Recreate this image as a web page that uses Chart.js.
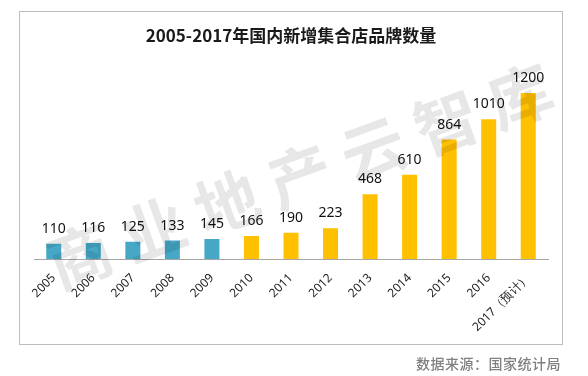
<!DOCTYPE html>
<html>
<head>
<meta charset="utf-8">
<script src="https://cdn.jsdelivr.net/npm/chart.js@4.4.1/dist/chart.umd.min.js"></script>
<style>
  html, body { margin: 0; padding: 0; background: #fff; }
  body { width: 588px; height: 376px; position: relative; overflow: hidden; }
  #frame { position: absolute; left: 19px; top: 11px; width: 544px; height: 334px; border: 1px solid #bdbdbd; box-sizing: border-box; }
  #wrap { position: absolute; left: 0; top: 0; width: 588px; height: 376px; }
  #source { position: absolute; right: 27px; top: 353px; font-family: "Noto Sans CJK SC", sans-serif; font-size: 14px; color: #808080; font-weight: 500; letter-spacing: 0.5px; }
</style>
</head>
<body>
<div id="frame"></div>
<div id="wrap"><canvas id="c" width="588" height="376"></canvas></div>
<div id="source">数据来源：国家统计局</div>
<script>
const categories = ['2005','2006','2007','2008','2009','2010','2011','2012','2013','2014','2015','2016','2017（预计）'];
const values = [110, 116, 125, 133, 145, 166, 190, 223, 468, 610, 864, 1010, 1200];
const barColors = ['#46A8C6','#46A8C6','#46A8C6','#46A8C6','#46A8C6','#FFC000','#FFC000','#FFC000','#FFC000','#FFC000','#FFC000','#FFC000','#FFC000'];
const titleText = '2005-2017年国内新增集合店品牌数量';
const watermarkText = '商业地产云智库';

const valueLabels = {
  id: 'valueLabels',
  afterDatasetsDraw(chart) {
    const ctx = chart.ctx;
    const meta = chart.getDatasetMeta(0);
    ctx.save();
    ctx.font = '14px "Noto Sans", sans-serif';
    ctx.fillStyle = '#111';
    ctx.textAlign = 'center';
    ctx.textBaseline = 'alphabetic';
    meta.data.forEach((bar, i) => {
      ctx.fillText(String(values[i]), bar.x, bar.y - 11);
    });
    ctx.restore();
  }
};

const watermark = {
  id: 'watermark',
  afterDraw(chart) {
    const ctx = chart.ctx;
    ctx.save();
    ctx.translate(300, 176);
    ctx.rotate(-20 * Math.PI / 180);
    ctx.font = 'bold 64px "Noto Sans CJK SC", sans-serif';
    ctx.fillStyle = 'rgba(0,0,0,0.095)';
    ctx.textAlign = 'center';
    ctx.textBaseline = 'middle';
    const chars = Array.from(watermarkText);
    const step = 78;
    chars.forEach((ch, i) => {
      ctx.fillText(ch, (i - (chars.length - 1) / 2) * step, 0);
    });
    ctx.restore();
  }
};

new Chart(document.getElementById('c'), {
  type: 'bar',
  data: {
    labels: categories,
    datasets: [{
      data: values,
      backgroundColor: barColors,
      borderWidth: 0,
      barPercentage: 0.38,
      categoryPercentage: 1.0
    }]
  },
  options: {
    responsive: false,
    animation: false,
    devicePixelRatio: 1,
    layout: { padding: { left: 34, right: 40, top: 0, bottom: 27 } },
    plugins: {
      legend: { display: false },
      tooltip: { enabled: false },
      title: {
        display: true,
        text: titleText,
        color: '#1a1a1a',
        font: { family: '"Noto Sans CJK SC", sans-serif', size: 17, weight: 'bold' },
        padding: { top: 25, bottom: 20 }
      }
    },
    scales: {
      x: {
        grid: { display: false },
        border: { display: true, color: '#a6a6a6', width: 1 },
        ticks: {
          color: '#222',
          font: { family: '"Noto Sans", sans-serif', size: 12 },
          maxRotation: 45,
          minRotation: 45,
          padding: 4,
          autoSkip: false
        },
        afterFit(scale) { scale.height = 90; }
      },
      y: {
        display: false,
        min: 0,
        max: 1400
      }
    }
  },
  plugins: [valueLabels, watermark]
});
</script>
</body>
</html>
